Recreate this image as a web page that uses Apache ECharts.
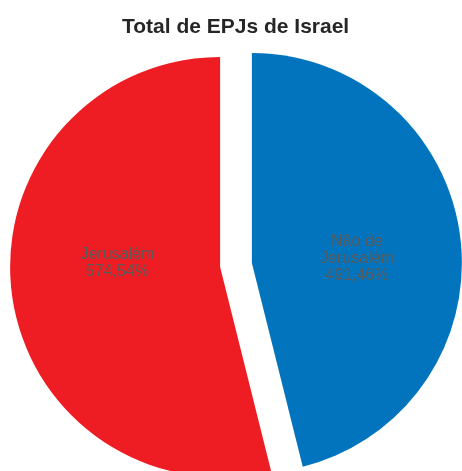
<!DOCTYPE html>
<html>
<head>
<meta charset="utf-8">
<script src="https://cdn.jsdelivr.net/npm/echarts@6/dist/echarts.min.js"></script>
<style>html,body{margin:0;padding:0;background:#fff;}#c{width:462px;height:471px;}</style>
</head>
<body>
<div id="c"></div>
<script>
var titleText = 'Total de EPJs de Israel';
var categories = ['Não de Jerusalém', 'Jerusalém'];
var nameLines = [['Não de', 'Jerusalém'], ['Jerusalém']];
var values = [491, 574];
var colors = ['#0174BD', '#EE1D23'];

var total = values.reduce(function (a, b) { return a + b; }, 0);
var chart = echarts.init(document.getElementById('c'), null, { renderer: 'canvas' });
chart.setOption({
  animation: false,
  title: {
    text: titleText,
    left: 117,
    top: 12,
    textStyle: { fontFamily: 'Liberation Sans, Arial, sans-serif', fontSize: 21, fontWeight: 'bold', color: '#262626' }
  },
  series: [{
    type: 'pie',
    center: [236, 265],
    radius: 210,
    startAngle: 90,
    clockwise: true,
    selectedMode: 'multiple',
    selectedOffset: 16,
    avoidLabelOverlap: false,
    label: {
      show: true,
      position: 'inside',
      fontFamily: 'Liberation Sans, Arial, sans-serif',
      fontSize: 16,
      lineHeight: 17,
      color: '#5a5a5a',
      formatter: function (p) {
        var lines = nameLines[p.dataIndex].concat([p.value + ',' + Math.round(p.value / total * 100) + '%']);
        if (p.dataIndex === 0) {
          lines = lines.map(function (s) { return s + ' '; });
          lines.unshift(' ');
        } else {
          lines = lines.map(function (s) { return '  ' + s; });
          lines.push(' ', ' ');
        }
        return lines.join('\n');
      }
    },
    labelLine: { show: false },
    emphasis: { disabled: true },
    data: categories.map(function (n, i) {
      return { name: n, value: values[i], selected: true, itemStyle: { color: colors[i] }, select: { itemStyle: { color: colors[i] } } };
    })
  }]
});
</script>
</body>
</html>
